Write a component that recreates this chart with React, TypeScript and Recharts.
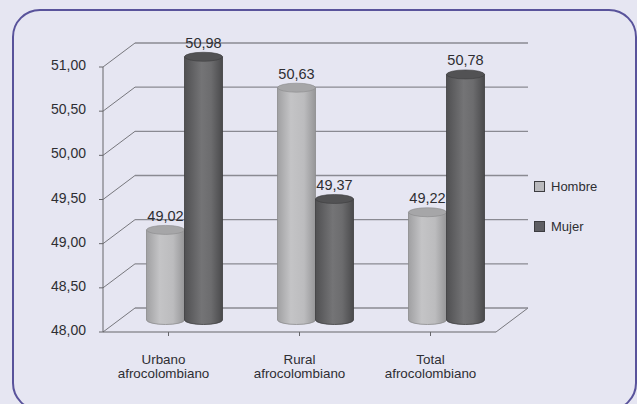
import { Bar, BarChart, CartesianGrid, LabelList, Legend, XAxis, YAxis } from "recharts"

const categories = ["Urbano afrocolombiano", "Rural afrocolombiano", "Total afrocolombiano"]
const hombre = [49.02, 50.63, 49.22]
const mujer = [50.98, 49.37, 50.78]
const yTicks = [48, 48.5, 49, 49.5, 50, 50.5, 51]

const data = categories.map((name, i) => ({ name, hombre: hombre[i], mujer: mujer[i] }))

const FONT = "'Liberation Sans', Arial, sans-serif"
const INK = "#2e2e33"

// depth of the fake 3D box
const DEPTH_X = 32
const DEPTH_Y = 24
// bars stand in the middle of the floor
const BAR_DX = 15.5
const BAR_DY = 12
const RY = 4.5

const fmt = (v: number) => v.toFixed(2).replace(".", ",")

function Cylinder({ x, y, width, height, fill, top, edge }: any) {
  const cx = x + BAR_DX + width / 2
  const rx = width / 2
  const yTop = y - BAR_DY
  const yBase = y + height - BAR_DY
  const left = cx - rx
  const right = cx + rx
  const body = `M${left},${yTop} L${left},${yBase} A${rx},${RY} 0 0 0 ${right},${yBase} L${right},${yTop} Z`
  return (
    <g>
      <path d={body} fill={fill} stroke={edge} strokeWidth={0.8} />
      <ellipse cx={cx} cy={yTop} rx={rx} ry={RY} fill={top} stroke={edge} strokeWidth={0.6} />
    </g>
  )
}

function BarValue({ x, y, width, value }: any) {
  return (
    <text
      x={x + BAR_DX + width / 2}
      y={y - BAR_DY - 9}
      textAnchor="middle"
      fontSize={14.5}
      fill={INK}
      fontFamily={FONT}
    >
      {fmt(value)}
    </text>
  )
}

// horizontal gridline plus its slanted run up to the back wall
function WallLine({ x1, x2, y1 }: any) {
  return (
    <g>
      <line x1={x1} y1={y1} x2={x1 + DEPTH_X} y2={y1 - DEPTH_Y} stroke="#77777d" strokeWidth={1} />
      <line x1={x1 + DEPTH_X} y1={y1 - DEPTH_Y} x2={x2 + DEPTH_X} y2={y1 - DEPTH_Y} stroke="#8a8a92" strokeWidth={1.3} />
    </g>
  )
}

function CategoryTick({ x, y, payload, index }: any) {
  const words = payload.value.split(" ")
  const tx = index === 0 ? x - 5 : x
  return (
    <text textAnchor="middle" fontSize={13.4} fill={INK} fontFamily={FONT}>
      {words.map((w: string, i: number) => (
        <tspan key={w} x={tx} y={y + 26 + i * 14}>
          {w}
        </tspan>
      ))}
    </text>
  )
}

function ValueTick({ x, y, payload }: any) {
  return (
    <text x={x} y={y + 3} textAnchor="end" fontSize={14} fill={INK} fontFamily={FONT}>
      {fmt(payload.value)}
    </text>
  )
}

function LegendBox() {
  const rows = [
    { label: "Hombre", fill: "#b9b9bd" },
    { label: "Mujer", fill: "#5e5e63" },
  ]
  return (
    <div style={{ fontFamily: FONT, fontSize: 13, color: INK }}>
      {rows.map((r) => (
        <div key={r.label} style={{ display: "flex", alignItems: "center", height: 40 }}>
          <span
            style={{
              width: 9,
              height: 9,
              background: r.fill,
              border: "1px solid #3c3c40",
              marginRight: 6,
            }}
          />
          {r.label}
        </div>
      ))}
    </div>
  )
}

export default function App() {
  return (
    <div style={{ position: "absolute", left: 0, top: 0, width: 637, height: 404, overflow: "hidden", background: "#e6e6f2" }}>
      <div
        style={{
          position: "absolute",
          left: 12,
          top: 9,
          width: 625,
          height: 402,
          boxSizing: "border-box",
          border: "2.5px solid #59539b",
          borderRadius: 28,
        }}
      />
      <svg width={0} height={0} style={{ position: "absolute" }}>
        <defs>
          <linearGradient id="lightBar" x1="0" y1="0" x2="1" y2="0">
            <stop offset="0%" stopColor="#a0a0a2" />
            <stop offset="35%" stopColor="#c4c4c6" />
            <stop offset="70%" stopColor="#bcbcbe" />
            <stop offset="100%" stopColor="#969698" />
          </linearGradient>
          <linearGradient id="darkBar" x1="0" y1="0" x2="1" y2="0">
            <stop offset="0%" stopColor="#505052" />
            <stop offset="45%" stopColor="#747476" />
            <stop offset="70%" stopColor="#6c6c6e" />
            <stop offset="100%" stopColor="#4a4a4c" />
          </linearGradient>
        </defs>
      </svg>
      {/* right edge of the floor */}
      <svg width={637} height={404} style={{ position: "absolute", left: 0, top: 0, pointerEvents: "none" }}>
        <line x1={496} y1={332} x2={496 + DEPTH_X} y2={332 - DEPTH_Y} stroke="#77777d" />
      </svg>
      <BarChart
        width={637}
        height={404}
        data={data}
        barSize={38}
        barGap={0}
        margin={{ top: 67, right: 141, bottom: 0, left: 0 }}
        style={{ position: "absolute", left: 0, top: 0 }}
      >
        <CartesianGrid vertical={false} horizontal={(props: any) => <WallLine key={props.key ?? props.y1} {...props} />} />
        <XAxis
          dataKey="name"
          interval={0}
          height={72}
          tick={<CategoryTick />}
          tickLine={{ stroke: "#66666a" }}
          tickSize={4}
          axisLine={{ stroke: "#66666a" }}
        />
        <YAxis
          type="number"
          domain={[48, 51]}
          ticks={yTicks}
          width={103}
          tickSize={4}
          tickMargin={13}
          tick={<ValueTick />}
          tickLine={{ stroke: "#66666a" }}
          axisLine={{ stroke: "#66666a" }}
        />
        <Legend
          layout="vertical"
          align="center"
          verticalAlign="middle"
          wrapperStyle={{ left: 534, top: 166, width: 90 }}
          content={<LegendBox />}
        />
        <Bar
          dataKey="hombre"
          isAnimationActive={false}
          shape={(p: any) => <Cylinder {...p} fill="url(#lightBar)" top="#a6a6a8" edge="#8a8a8c" />}
        >
          <LabelList dataKey="hombre" content={<BarValue />} />
        </Bar>
        <Bar
          dataKey="mujer"
          isAnimationActive={false}
          shape={(p: any) => <Cylinder {...p} fill="url(#darkBar)" top="#525254" edge="#3c3c3e" />}
        >
          <LabelList dataKey="mujer" content={<BarValue />} />
        </Bar>
      </BarChart>
    </div>
  )
}
